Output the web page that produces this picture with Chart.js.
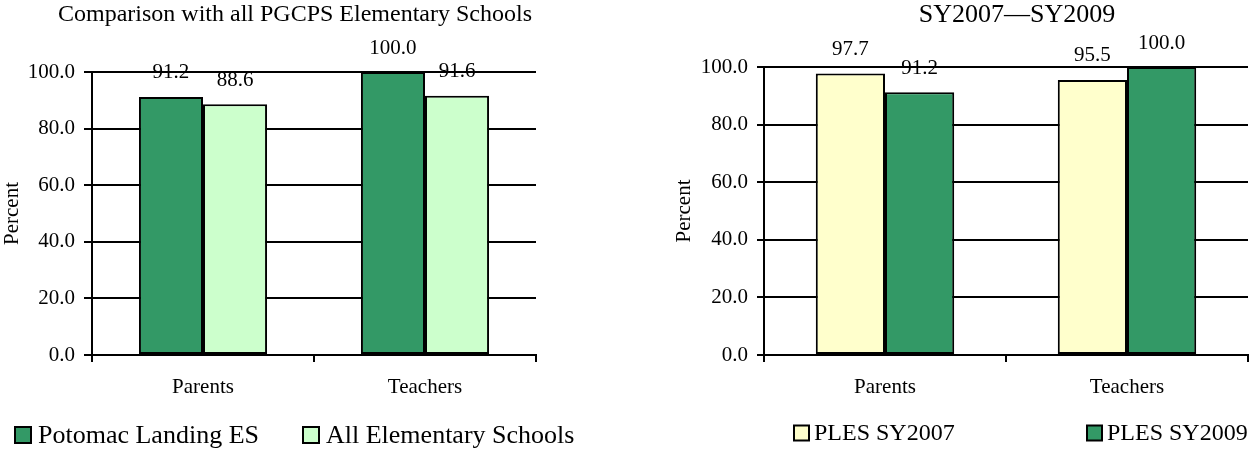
<!DOCTYPE html>
<html>
<head>
<meta charset="utf-8">
<title>PLES survey charts</title>
<script src="https://cdn.jsdelivr.net/npm/chart.js@4/dist/chart.umd.min.js"></script>
<style>
    html, body { margin: 0; padding: 0; background: #fff; }
    body { width: 1253px; height: 450px; position: relative; overflow: hidden; }
    .panel { position: absolute; top: 0; height: 450px; }
    #leftPanel { left: 0; width: 600px; }
    #rightPanel { left: 672px; width: 581px; }
</style>
</head>
<body>
<div class="panel" id="leftPanel"><canvas id="compareChart"></canvas></div>
<div class="panel" id="rightPanel"><canvas id="trendChart"></canvas></div>
<script>
// ---------- Data ----------
var categories = ["Parents", "Teachers"];
var yTicks = [0, 20, 40, 60, 80, 100];

var compareTitle = "Comparison with all PGCPS Elementary Schools";
var potomacLanding = [91.2, 100.0];
var allElementary = [88.6, 91.6];

var trendTitle = "SY2007\u2014SY2009";
var ples2007 = [97.7, 95.5];
var ples2009 = [91.2, 100.0];

(function () {
    "use strict";

    var SERIF = "'Liberation Serif', 'Times New Roman', serif";
    var DARK_GREEN = "#339966";
    var LIGHT_GREEN = "#ccffcc";
    var LIGHT_YELLOW = "#ffffcc";

    // ---------- Value labels above each bar ----------
    var barValues = {
        id: "barValues",
        afterDatasetsDraw: function (chart, args, opts) {
            var ctx = chart.ctx;
            ctx.save();
            ctx.fillStyle = "#000";
            ctx.font = opts.size + "px " + SERIF;
            ctx.textAlign = "center";
            ctx.textBaseline = "middle";
            chart.data.datasets.forEach(function (ds, i) {
                chart.getDatasetMeta(i).data.forEach(function (bar, j) {
                    ctx.fillText(ds.data[j].toFixed(1), bar.x, bar.y - opts.offset);
                });
            });
            ctx.restore();
        }
    };

    // ---------- Title + legend drawn at fixed spots ----------
    var panelText = {
        id: "panelText",
        afterDraw: function (chart, args, opts) {
            var ctx = chart.ctx;
            ctx.save();
            ctx.fillStyle = "#000";
            ctx.textBaseline = "middle";

            ctx.font = opts.titleSize + "px " + SERIF;
            ctx.textAlign = "center";
            ctx.fillText(opts.title, opts.titleX, opts.titleY);

            ctx.font = opts.legendSize + "px " + SERIF;
            ctx.textAlign = "left";
            chart.data.datasets.forEach(function (ds, i) {
                var x = opts.legendX[i];
                var y = opts.legendY;
                var b = opts.box;
                ctx.fillStyle = ds.backgroundColor;
                ctx.fillRect(x, y - b / 2, b, b);
                ctx.lineWidth = 2;
                ctx.strokeStyle = "#000";
                ctx.strokeRect(x, y - b / 2, b, b);
                ctx.fillStyle = "#000";
                ctx.fillText(ds.label, x + b + opts.gap, y + 1);
            });
            ctx.restore();
        }
    };

    function makeChart(canvasId, datasets, layout, text, catPct) {
        var ctx = document.getElementById(canvasId).getContext("2d");
        return new Chart(ctx, {
            type: "bar",
            data: {
                labels: categories,
                datasets: datasets
            },
            plugins: [barValues, panelText],
            options: {
                responsive: true,
                maintainAspectRatio: false,
                animation: false,
                layout: { padding: layout.padding },
                datasets: {
                    bar: {
                        borderColor: "#000",
                        borderWidth: 2,
                        borderSkipped: false,
                        barPercentage: 1,
                        categoryPercentage: catPct
                    }
                },
                plugins: {
                    legend: { display: false },
                    title: { display: false },
                    tooltip: { enabled: false },
                    barValues: { size: 21, offset: 24 },
                    panelText: text
                },
                scales: {
                    x: {
                        grid: {
                            color: "#000",
                            lineWidth: 2,
                            drawOnChartArea: false,
                            drawTicks: true,
                            tickLength: 7
                        },
                        border: { color: "#000", width: 2 },
                        ticks: {
                            color: "#000",
                            padding: 13,
                            font: { family: SERIF, size: 21 }
                        },
                        afterFit: function (scale) { scale.height = 95; }
                    },
                    y: {
                        min: yTicks[0],
                        max: yTicks[yTicks.length - 1],
                        afterBuildTicks: function (scale) {
                            scale.ticks = yTicks.map(function (v) { return { value: v }; });
                        },
                        grid: {
                            color: "#000",
                            lineWidth: 2,
                            tickLength: layout.tickLength
                        },
                        border: { color: "#000", width: 2 },
                        ticks: {
                            color: "#000",
                            padding: 9,
                            font: { family: SERIF, size: 21 },
                            callback: function (v) { return Number(v).toFixed(1); }
                        },
                        title: {
                            display: true,
                            text: "Percent",
                            color: "#000",
                            padding: 0,
                            font: { family: SERIF, size: 21 }
                        },
                        afterFit: function (scale) { scale.width = 92; }
                    }
                }
            }
        });
    }

    // ---------- Left: school vs all elementary schools ----------
    makeChart("compareChart", [
        { label: "Potomac Landing ES", data: potomacLanding, backgroundColor: DARK_GREEN },
        { label: "All Elementary Schools", data: allElementary, backgroundColor: LIGHT_GREEN }
    ], {
        padding: { top: 72, right: 64, bottom: 0, left: 0 },
        tickLength: 8
    }, {
        title: compareTitle, titleSize: 24, titleX: 295, titleY: 15,
        legendSize: 26, legendX: [15, 303], legendY: 435, box: 16, gap: 7
    }, 0.577);

    // ---------- Right: SY2007 vs SY2009 ----------
    makeChart("trendChart", [
        { label: "PLES SY2007", data: ples2007, backgroundColor: LIGHT_YELLOW },
        { label: "PLES SY2009", data: ples2009, backgroundColor: DARK_GREEN }
    ], {
        padding: { top: 67, right: 5, bottom: 0, left: 0 },
        tickLength: 7
    }, {
        title: trendTitle, titleSize: 26, titleX: 345, titleY: 15,
        legendSize: 24, legendX: [122, 415], legendY: 433, box: 15, gap: 5
    }, 0.572);
})();
</script>
</body>
</html>
